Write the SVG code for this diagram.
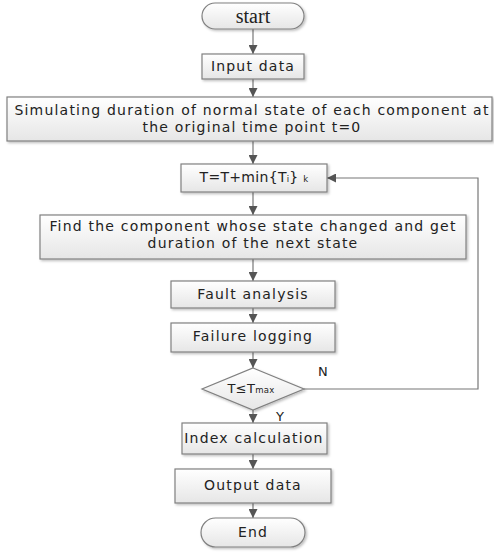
<svg xmlns="http://www.w3.org/2000/svg" width="494" height="554" viewBox="0 0 494 554">
<defs>
<linearGradient id="g" x1="0" y1="0" x2="0" y2="1">
<stop offset="0" stop-color="#ffffff"/>
<stop offset="1" stop-color="#e6e6e6"/>
</linearGradient>
<marker id="ah" viewBox="0 0 10 10" refX="10" refY="5" markerWidth="9" markerHeight="9" markerUnits="userSpaceOnUse" orient="auto">
<path d="M0,0 L10,5 L0,10 z" fill="#555"/>
</marker>
<filter id="sh" x="-5%" y="-10%" width="115%" height="130%">
<feDropShadow dx="1.5" dy="1.5" stdDeviation="1" flood-color="#000" flood-opacity="0.25"/>
</filter>
</defs>
<style>
.n{fill:url(#g);stroke:#808080;stroke-width:1.2;filter:url(#sh)}
.t{font-family:"DejaVu Sans","Liberation Sans",sans-serif;font-size:14px;letter-spacing:1.2px;fill:#222;text-anchor:middle}
.s{font-size:8.5px;letter-spacing:0.2px}
.c{fill:none;stroke:#777;stroke-width:1.2;marker-end:url(#ah)}
.l{font-family:"DejaVu Sans","Liberation Sans",sans-serif;font-size:13px;fill:#222}
</style>
<rect width="494" height="554" fill="#fff"/>
<g id="connectors">
<line class="c" x1="253" y1="29" x2="253" y2="54"/>
<line class="c" x1="253" y1="79" x2="253" y2="97"/>
<line class="c" x1="253" y1="141" x2="253" y2="164"/>
<line class="c" x1="253" y1="192" x2="253" y2="215"/>
<line class="c" x1="253" y1="259" x2="253" y2="281"/>
<line class="c" x1="253" y1="308" x2="253" y2="323"/>
<line class="c" x1="253" y1="352" x2="253" y2="368"/>
<line class="c" x1="253" y1="410" x2="253" y2="423"/>
<line class="c" x1="253" y1="454" x2="253" y2="469"/>
<line class="c" x1="253" y1="503" x2="253" y2="518"/>
<polyline class="c" points="304,389 478,389 478,178 327,178"/>
<text class="l" x="318" y="376">N</text>
<text class="l" x="276" y="421">Y</text>
</g>
<g id="start">
<rect class="n" x="202" y="3" width="102" height="26" rx="13" ry="13"/>
<text x="253" y="23" font-family="'Liberation Serif',serif" font-size="20" fill="#222" text-anchor="middle">start</text>
</g>
<g id="input">
<rect class="n" x="202" y="54" width="102" height="25"/>
<text class="t" x="253" y="71">Input data</text>
</g>
<g id="simulate">
<rect class="n" x="7" y="97" width="485" height="44"/>
<text class="t" x="252" y="115">Simulating duration of normal state of each component at</text>
<text class="t" x="252" y="132">the original time point t=0</text>
</g>
<g id="update">
<rect class="n" x="181" y="164" width="146" height="28"/>
<text class="t" x="254" y="182" style="letter-spacing:0.3px">T=T+min{T<tspan class="s">i</tspan><tspan>} </tspan><tspan class="s">k</tspan></text>
</g>
<g id="find">
<rect class="n" x="40" y="215" width="426" height="44"/>
<text class="t" x="253" y="231">Find the component whose state changed and get</text>
<text class="t" x="253" y="248">duration of the next state</text>
</g>
<g id="fault">
<rect class="n" x="171" y="281" width="164" height="27"/>
<text class="t" x="253" y="299">Fault analysis</text>
</g>
<g id="failure">
<rect class="n" x="171" y="323" width="164" height="29"/>
<text class="t" x="253" y="341">Failure logging</text>
</g>
<g id="decision">
<polygon class="n" points="253,368 304,389 253,410 202,389"/>
<text class="t" x="251" y="393" style="font-size:13px;letter-spacing:0.3px">T≤T<tspan class="s">max</tspan></text>
</g>
<g id="index">
<rect class="n" x="182" y="423" width="145" height="31"/>
<text class="t" x="254" y="443">Index calculation</text>
</g>
<g id="output">
<rect class="n" x="175" y="469" width="156" height="34"/>
<text class="t" x="253" y="490">Output data</text>
</g>
<g id="end">
<rect class="n" x="201" y="518" width="104" height="29" rx="14.5" ry="14.5"/>
<text class="t" x="253" y="537">End</text>
</g>
</svg>
